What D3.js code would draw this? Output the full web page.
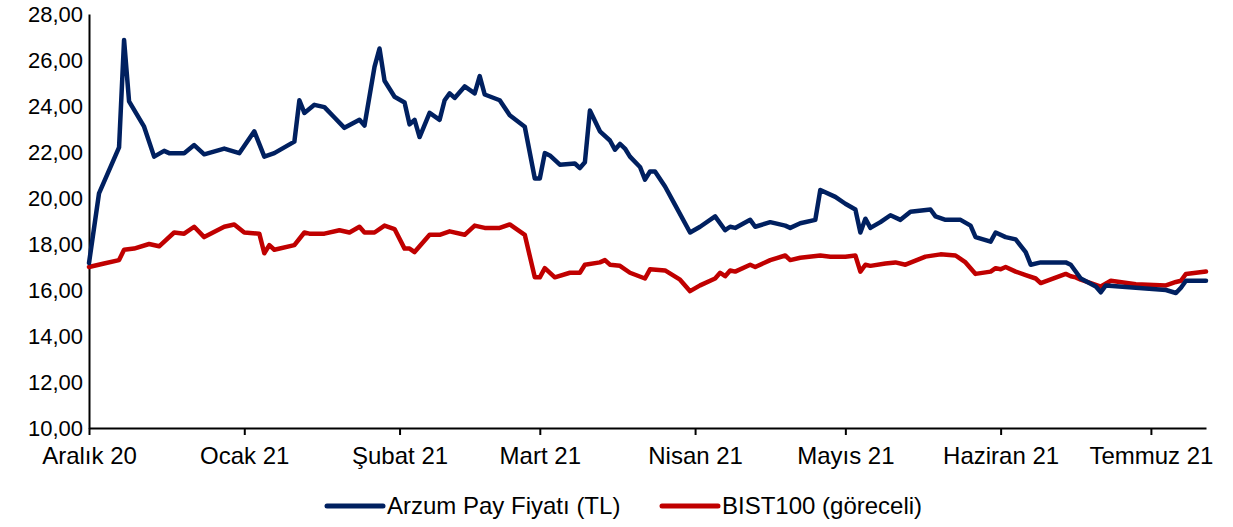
<!DOCTYPE html>
<html>
<head>
<meta charset="utf-8">
<script src="https://cdn.jsdelivr.net/npm/d3@7"></script>
<style>
  body { margin: 0; background: #fff; }
  text { font-family: "Liberation Sans", Arial, sans-serif; fill: #000; }
</style>
</head>
<body>
<svg id="chart" width="1233" height="527"></svg>
<script>
// data
const arzumDates = ["2020-12-01","2020-12-03","2020-12-07","2020-12-08","2020-12-09","2020-12-12","2020-12-14","2020-12-16","2020-12-17","2020-12-20","2020-12-22","2020-12-24","2020-12-28","2020-12-31",
  "2021-01-03","2021-01-05","2021-01-07","2021-01-11","2021-01-12","2021-01-13","2021-01-15","2021-01-17","2021-01-19","2021-01-21","2021-01-24","2021-01-25","2021-01-27","2021-01-28","2021-01-29","2021-01-31",
  "2021-02-02","2021-02-03","2021-02-04","2021-02-05","2021-02-07","2021-02-09","2021-02-10","2021-02-11","2021-02-12","2021-02-14","2021-02-16","2021-02-17","2021-02-18","2021-02-21","2021-02-23","2021-02-26","2021-02-28",
  "2021-03-01","2021-03-02","2021-03-03","2021-03-05","2021-03-08","2021-03-09","2021-03-10","2021-03-11","2021-03-13","2021-03-15","2021-03-16","2021-03-17","2021-03-18","2021-03-19","2021-03-21","2021-03-22","2021-03-23","2021-03-24","2021-03-26","2021-03-28","2021-03-31",
  "2021-04-02","2021-04-05","2021-04-07","2021-04-08","2021-04-09","2021-04-12","2021-04-13","2021-04-16","2021-04-19","2021-04-20","2021-04-22","2021-04-25","2021-04-26","2021-04-29",
  "2021-05-01","2021-05-03","2021-05-04","2021-05-05","2021-05-06","2021-05-08","2021-05-10","2021-05-12","2021-05-14","2021-05-18","2021-05-19","2021-05-21","2021-05-24","2021-05-26","2021-05-27","2021-05-30","2021-05-31",
  "2021-06-02","2021-06-04","2021-06-06","2021-06-07","2021-06-09","2021-06-14","2021-06-15","2021-06-17","2021-06-20","2021-06-21","2021-06-22",
  "2021-07-04","2021-07-06","2021-07-07","2021-07-08","2021-07-12"];
const arzumValues = [17.17,20.2,22.2,26.87,24.2,23.1,21.8,22.05,21.95,21.95,22.3,21.9,22.15,21.95,
  22.9,21.8,21.95,22.45,24.25,23.7,24.05,23.95,23.5,23.05,23.4,23.15,25.7,26.5,25.1,24.4,
  24.15,23.2,23.4,22.65,23.7,23.4,24.25,24.55,24.35,24.85,24.55,25.3,24.5,24.25,23.6,23.1,20.85,
  20.85,21.95,21.85,21.45,21.5,21.3,21.55,23.8,22.9,22.5,22.1,22.35,22.15,21.8,21.35,20.8,21.15,21.15,20.5,19.7,18.5,
  18.75,19.2,18.6,18.75,18.7,19.05,18.75,18.95,18.8,18.7,18.9,19.05,20.35,20.05,
  19.75,19.5,18.5,19.1,18.7,18.95,19.25,19.05,19.4,19.5,19.2,19.05,19.05,18.8,18.3,18.1,18.5,
  18.3,18.2,17.65,17.1,17.2,17.2,17.1,16.5,16.15,15.9,16.2,
  16.0,15.87,16.1,16.4,16.4];

const bistDates = ["2020-12-01","2020-12-04","2020-12-07","2020-12-08","2020-12-10","2020-12-13","2020-12-15","2020-12-18","2020-12-20","2020-12-22","2020-12-24","2020-12-28","2020-12-30",
  "2021-01-01","2021-01-04","2021-01-05","2021-01-06","2021-01-07","2021-01-11","2021-01-13","2021-01-14","2021-01-17","2021-01-20","2021-01-22","2021-01-24","2021-01-25","2021-01-27","2021-01-29","2021-01-31",
  "2021-02-02","2021-02-03","2021-02-04","2021-02-07","2021-02-09","2021-02-11","2021-02-14","2021-02-16","2021-02-18","2021-02-21","2021-02-23","2021-02-24","2021-02-26","2021-02-28",
  "2021-03-01","2021-03-02","2021-03-04","2021-03-07","2021-03-09","2021-03-10","2021-03-13","2021-03-14","2021-03-15","2021-03-17","2021-03-19","2021-03-22","2021-03-23","2021-03-26","2021-03-29","2021-03-31",
  "2021-04-02","2021-04-05","2021-04-06","2021-04-07","2021-04-08","2021-04-09","2021-04-12","2021-04-13","2021-04-16","2021-04-19","2021-04-20","2021-04-22","2021-04-26","2021-04-28",
  "2021-05-01","2021-05-03","2021-05-04","2021-05-05","2021-05-06","2021-05-09","2021-05-11","2021-05-13","2021-05-17","2021-05-20","2021-05-23","2021-05-25","2021-05-27","2021-05-30","2021-05-31",
  "2021-06-01","2021-06-02","2021-06-04","2021-06-06","2021-06-08","2021-06-09","2021-06-14","2021-06-15","2021-06-16","2021-06-17","2021-06-21","2021-06-23","2021-06-28",
  "2021-07-04","2021-07-06","2021-07-07","2021-07-08","2021-07-12"];
const bistValues = [17.0,17.15,17.3,17.75,17.8,18.0,17.9,18.5,18.45,18.75,18.3,18.75,18.85,
  18.5,18.45,17.6,17.95,17.75,17.95,18.5,18.45,18.45,18.6,18.5,18.75,18.5,18.5,18.8,18.65,
  17.8,17.8,17.65,18.4,18.4,18.55,18.4,18.8,18.7,18.7,18.85,18.7,18.4,16.55,
  16.55,16.95,16.55,16.75,16.75,17.1,17.2,17.3,17.1,17.05,16.75,16.5,16.9,16.85,16.45,15.95,
  16.2,16.5,16.75,16.6,16.85,16.8,17.1,17.0,17.3,17.5,17.3,17.4,17.5,17.45,
  17.45,17.5,16.8,17.1,17.05,17.15,17.2,17.1,17.45,17.55,17.5,17.2,16.7,16.8,16.95,
  16.9,17.0,16.8,16.65,16.5,16.3,16.7,16.6,16.55,16.45,16.15,16.4,16.25,
  16.2,16.35,16.4,16.7,16.8];

const monthTicks = ["2020-12-01","2021-01-01","2021-02-01","2021-03-01","2021-04-01","2021-05-01","2021-06-01","2021-07-01"];
const monthLabels = ["Aralık 20","Ocak 21","Şubat 21","Mart 21","Nisan 21","Mayıs 21","Haziran 21","Temmuz 21"];
const yTicks = [10,12,14,16,18,20,22,24,26,28];
const seriesNames = ["Arzum Pay Fiyatı (TL)","BIST100 (göreceli)"];
const seriesColors = ["#002060","#c00000"];

const parse = d3.timeParse("%Y-%m-%d");
const svg = d3.select("#chart");
const margin = {left: 89, right: 27, top: 14, bottom: 99};
const W = 1233, H = 527;

const x = d3.scaleTime()
  .domain([parse("2020-12-01"), parse("2021-07-12")])
  .range([margin.left, W - margin.right]);
const y = d3.scaleLinear()
  .domain([10, 28])
  .range([H - margin.bottom, margin.top]);

// y axis labels (no tick marks)
const yAxis = svg.append("g")
  .attr("transform", `translate(${margin.left},0)`)
  .call(d3.axisLeft(y).tickValues(yTicks).tickSize(0).tickPadding(6)
    .tickFormat(d => d3.format(".2f")(d).replace(".", ",")));
yAxis.select(".domain").attr("stroke", "#000").attr("stroke-width", 2);
yAxis.selectAll("text").style("font-size", "22px").style("font-family", "Liberation Sans, Arial, sans-serif");

// x axis
const xAxis = svg.append("g")
  .attr("transform", `translate(0,${y(10)})`)
  .call(d3.axisBottom(x).tickValues(monthTicks.map(parse)).tickSizeInner(7).tickSizeOuter(0).tickPadding(12)
    .tickFormat((d, i) => monthLabels[i]));
xAxis.select(".domain").attr("stroke", "#000").attr("stroke-width", 2);
xAxis.selectAll(".tick line").attr("stroke", "#000").attr("stroke-width", 2);
xAxis.selectAll("text").style("font-size", "24px").style("font-family", "Liberation Sans, Arial, sans-serif");

const line = d3.line()
  .x(d => x(d[0]))
  .y(d => y(d[1]));

const series = [
  d3.zip(arzumDates.map(parse), arzumValues),
  d3.zip(bistDates.map(parse), bistValues)
];

// draw red first so navy sits on top like the original
[1, 0].forEach(i => {
  svg.append("path")
    .datum(series[i])
    .attr("fill", "none")
    .attr("stroke", seriesColors[i])
    .attr("stroke-width", 4.5)
    .attr("stroke-linejoin", "round")
    .attr("stroke-linecap", "round")
    .attr("d", line);
});

// legend
const legendX = [327, 662];
const legend = svg.append("g").attr("class", "legend");
seriesNames.forEach((name, i) => {
  const g = legend.append("g").attr("transform", `translate(${legendX[i]},506)`);
  g.append("line")
    .attr("x1", 0).attr("x2", 56)
    .attr("stroke", seriesColors[i])
    .attr("stroke-width", 5)
    .attr("stroke-linecap", "round");
  g.append("text")
    .attr("x", 60)
    .attr("dy", "0.35em")
    .style("font-size", "24px")
    .text(name);
});
</script>
</body>
</html>
